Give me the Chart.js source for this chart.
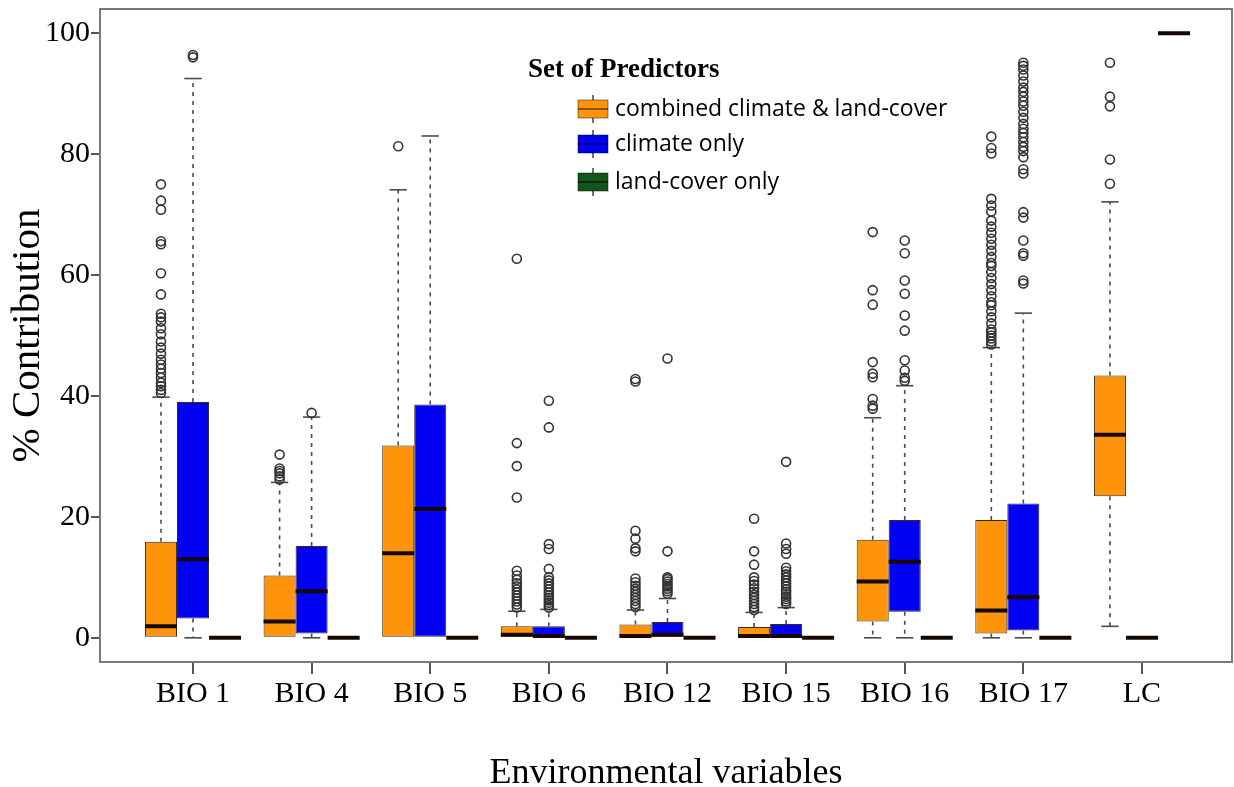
<!DOCTYPE html>
<html>
<head>
<meta charset="utf-8">
<script src="https://cdn.jsdelivr.net/npm/chart.js@4.4.1/dist/chart.umd.min.js"></script>
<style>
  html, body { margin: 0; padding: 0; background: #fff; }
</style>
</head>
<body>
<canvas id="boxChart" width="1234" height="787"></canvas>
<script>
// Environmental variables on the x axis
const categories = ['BIO 1', 'BIO 4', 'BIO 5', 'BIO 6', 'BIO 12', 'BIO 15', 'BIO 16', 'BIO 17', 'LC'];
const yTicks = [0, 20, 40, 60, 80, 100];
const seriesLabels = ['combined climate & land-cover', 'climate only', 'land-cover only'];
const seriesColors = ['#ff940a', '#0000f2', '#14561a'];

// combined climate & land-cover
const combinedLow    = [0, 0, 0, 0, 0, 0, 0, 0, 1.9];
const combinedQ1     = [0, 0, 0, 0, 0, 0, 2.7, 0.7, 23.4];
const combinedMedian = [1.9, 2.7, 14, 0.5, 0.3, 0.3, 9.3, 4.5, 33.6];
const combinedQ3     = [15.9, 10.3, 31.8, 1.9, 2.2, 1.8, 16.2, 19.5, 43.4];
const combinedHigh   = [39.8, 25.7, 74.1, 4.4, 4.6, 4.2, 36.4, 48, 72.1];
const combinedOutliers = [
  [40.5, 41, 41.6, 42.2, 43, 43.8, 44.5, 45.2, 46, 47, 48, 49, 50.2, 51.2, 52.3, 53, 53.6, 56.8, 60.3, 65.1, 65.6, 70.8, 72.3, 75],
  [26.2, 26.7, 27.2, 27.6, 28, 30.3],
  [81.3],
  [5, 5.5, 6, 6.5, 7, 7.5, 8, 8.5, 9, 9.6, 10.3, 11.1, 23.2, 28.4, 32.2, 62.7],
  [5.1, 5.6, 6.1, 6.6, 7.1, 7.6, 8.1, 8.6, 9.2, 9.8, 14.3, 14.8, 16.4, 17.7, 42.4, 42.8],
  [4.6, 5.1, 5.6, 6.1, 6.6, 7.1, 7.6, 8.2, 8.8, 9.4, 10, 12.1, 14.3, 19.7],
  [37.9, 38.4, 39.5, 43.1, 43.7, 45.6, 55.1, 57.5, 67.1],
  [48.5, 49, 49.5, 50, 50.5, 51, 52, 53, 54, 55, 55.5, 56.5, 57.5, 58.5, 59.5, 60.5, 61.5, 62, 63, 64, 65,
   66, 67, 68, 69, 70.5, 71.5, 72.6, 80.1, 81, 82.9],
  [75.1, 79.1, 87.9, 89.5, 95.1]
];

// climate only
const climateLow    = [0, 0, 0, 0, 0, 0, 0, 0, 0];
const climateQ1     = [3.2, 0.7, 0, 0, 0, 0, 4.3, 1.2, 0];
const climateMedian = [13, 7.7, 21.3, 0.3, 0.5, 0.3, 12.6, 6.7, 0];
const climateQ3     = [39, 15.2, 38.6, 1.9, 2.6, 2.3, 19.5, 22.2, 0];
const climateHigh   = [92.5, 36.5, 83, 4.7, 6.5, 5, 41.7, 53.7, 0];
const climateOutliers = [
  [96, 96.4],
  [37.2],
  [],
  [5, 5.4, 5.8, 6.2, 6.6, 7, 7.5, 8, 8.5, 9, 9.5, 10, 11.4, 14.7, 15.5, 34.8, 39.2],
  [7.3, 7.7, 8.1, 8.5, 8.9, 9.3, 9.7, 10, 14.3, 46.2],
  [5.6, 6, 6.4, 6.8, 7.2, 7.6, 8, 8.5, 9, 9.5, 10, 10.5, 11, 11.6, 13.9, 14.7, 15.6, 29.1],
  [42.5, 43, 44.2, 45.9, 50.8, 53.3, 56.9, 59.1, 63.6, 65.7],
  [58.6, 59.1, 63.2, 63.6, 65.7, 69.5, 70.4, 76.8, 77.5, 79.5, 80.5, 81.2, 82, 82.8, 83.5, 84.2, 85, 86, 87,
   88, 88.7, 89.5, 90.3, 91, 92, 93, 94, 94.6, 95.1],
  []
];

// land-cover only
const landLow    = [0, 0, 0, 0, 0, 0, 0, 0, 100];
const landQ1     = [0, 0, 0, 0, 0, 0, 0, 0, 100];
const landMedian = [0, 0, 0, 0, 0, 0, 0, 0, 100];
const landQ3     = [0, 0, 0, 0, 0, 0, 0, 0, 100];
const landHigh   = [0, 0, 0, 0, 0, 0, 0, 0, 100];
const landOutliers = [[], [], [], [], [], [], [], [], []];

const series = [
  { low: combinedLow, q1: combinedQ1, median: combinedMedian, q3: combinedQ3, high: combinedHigh, out: combinedOutliers },
  { low: climateLow, q1: climateQ1, median: climateMedian, q3: climateQ3, high: climateHigh, out: climateOutliers },
  { low: landLow, q1: landQ1, median: landMedian, q3: landQ3, high: landHigh, out: landOutliers }
];

const serif = "'Liberation Serif', 'DejaVu Serif', serif";
const sans = "'Open Sans', 'Noto Sans', sans-serif";

// whiskers go behind the boxes, medians and outliers on top
const boxParts = {
  id: 'boxParts',
  beforeDatasetsDraw(chart) {
    const ctx = chart.ctx;
    const y = chart.scales.y;
    ctx.save();
    ctx.strokeStyle = '#4a4a4a';
    ctx.lineWidth = 1.6;
    series.forEach((s, d) => {
      chart.getDatasetMeta(d).data.forEach((bar, i) => {
        const cap = bar.width * 0.27;
        const ends = [];
        if (s.high[i] > s.q3[i]) ends.push([s.q3[i], s.high[i]]);
        if (s.low[i] < s.q1[i]) ends.push([s.q1[i], s.low[i]]);
        ends.forEach(([from, to]) => {
          ctx.setLineDash([4, 5]);
          ctx.beginPath();
          ctx.moveTo(bar.x, y.getPixelForValue(from));
          ctx.lineTo(bar.x, y.getPixelForValue(to));
          ctx.stroke();
          ctx.setLineDash([]);
          ctx.beginPath();
          ctx.moveTo(bar.x - cap, y.getPixelForValue(to));
          ctx.lineTo(bar.x + cap, y.getPixelForValue(to));
          ctx.stroke();
        });
      });
    });
    ctx.restore();
  },
  afterDatasetsDraw(chart) {
    const ctx = chart.ctx;
    const y = chart.scales.y;
    ctx.save();
    series.forEach((s, d) => {
      chart.getDatasetMeta(d).data.forEach((bar, i) => {
        const half = bar.width / 2;
        const my = y.getPixelForValue(s.median[i]);
        ctx.strokeStyle = '#140800';
        ctx.lineWidth = 4;
        ctx.beginPath();
        ctx.moveTo(bar.x - half, my);
        ctx.lineTo(bar.x + half, my);
        ctx.stroke();

        ctx.strokeStyle = '#333';
        ctx.lineWidth = 1.6;
        s.out[i].forEach(v => {
          ctx.beginPath();
          ctx.arc(bar.x, y.getPixelForValue(v), 4.5, 0, Math.PI * 2);
          ctx.stroke();
        });
      });
    });
    // plot frame
    const a = chart.chartArea;
    ctx.strokeStyle = '#7a7a7a';
    ctx.lineWidth = 2;
    ctx.strokeRect(a.left, a.top, a.right - a.left, a.bottom - a.top);
    ctx.restore();
  }
};

// legend with box glyphs, placed inside the plot
const boxLegend = {
  id: 'boxLegend',
  afterDraw(chart) {
    const ctx = chart.ctx;
    ctx.save();
    ctx.fillStyle = '#000';
    ctx.font = 'bold 27px ' + serif;
    ctx.textBaseline = 'alphabetic';
    ctx.fillText('Set of Predictors', 528, 77);

    const rows = [109, 144, 182];
    chart.data.datasets.forEach((ds, d) => {
      const cy = rows[d];
      const x0 = 578, w = 30, h = 18;
      ctx.strokeStyle = '#444';
      ctx.lineWidth = 1.5;
      ctx.beginPath();
      ctx.moveTo(x0 + w / 2, cy - h / 2 - 5);
      ctx.lineTo(x0 + w / 2, cy + h / 2 + 5);
      ctx.stroke();
      ctx.fillStyle = ds.backgroundColor;
      ctx.fillRect(x0, cy - h / 2, w, h);
      ctx.strokeStyle = 'rgba(0,0,0,0.45)';
      ctx.lineWidth = 1;
      ctx.strokeRect(x0, cy - h / 2, w, h);
      ctx.lineWidth = 2;
      ctx.beginPath();
      ctx.moveTo(x0, cy);
      ctx.lineTo(x0 + w, cy);
      ctx.stroke();

      ctx.fillStyle = '#000';
      ctx.font = '23px ' + sans;
      ctx.textBaseline = 'middle';
      ctx.fillText(ds.label, 615, cy);
    });
    ctx.restore();
  }
};

new Chart(document.getElementById('boxChart'), {
  type: 'bar',
  data: {
    datasets: series.map((s, d) => ({
      label: seriesLabels[d],
      backgroundColor: seriesColors[d],
      borderColor: '#3a2a1a',
      borderWidth: 1,
      borderSkipped: false,
      categoryPercentage: 0.81,
      barPercentage: 1,
      data: categories.map((c, i) => ({ x: i, y: [s.q1[i], s.q3[i]] }))
    }))
  },
  options: {
    responsive: false,
    animation: false,
    devicePixelRatio: 1,
    layout: { padding: { top: 9, right: 2, left: 0, bottom: 0 } },
    plugins: {
      legend: { display: false },
      tooltip: { enabled: false }
    },
    scales: {
      x: {
        type: 'linear',
        min: -0.784,
        max: 8.759,
        offset: false,
        afterBuildTicks: scale => { scale.ticks = categories.map((c, i) => ({ value: i })); },
        afterFit: scale => { scale.height = 125; scale.paddingLeft = 0; scale.paddingRight = 0; },
        grid: { display: true, drawOnChartArea: false, offset: false, tickLength: 12, color: '#555', lineWidth: 2 },
        border: { display: false },
        ticks: {
          padding: 2,
          color: '#000',
          font: { family: serif, size: 30 },
          maxRotation: 0,
          autoSkip: false,
          callback: v => categories[v]
        },
        title: {
          display: true,
          text: 'Environmental variables',
          color: '#000',
          font: { family: serif, size: 36, lineHeight: 0.75 },
          padding: { top: 0, bottom: 0 }
        }
      },
      y: {
        min: -4,
        max: 104,
        afterBuildTicks: scale => { scale.ticks = yTicks.map(v => ({ value: v })); },
        afterFit: scale => { scale.width = 100; scale.paddingTop = 0; scale.paddingBottom = 0; },
        grid: { display: true, drawOnChartArea: false, tickLength: 9, color: '#555', lineWidth: 2 },
        border: { display: false },
        ticks: {
          padding: 1,
          color: '#000',
          font: { family: serif, size: 30 }
        },
        title: {
          display: true,
          text: '% Contribution',
          color: '#000',
          font: { family: serif, size: 41, lineHeight: 1 },
          padding: { top: 8, bottom: 0 }
        }
      }
    }
  },
  plugins: [boxParts, boxLegend]
});
</script>
</body>
</html>
